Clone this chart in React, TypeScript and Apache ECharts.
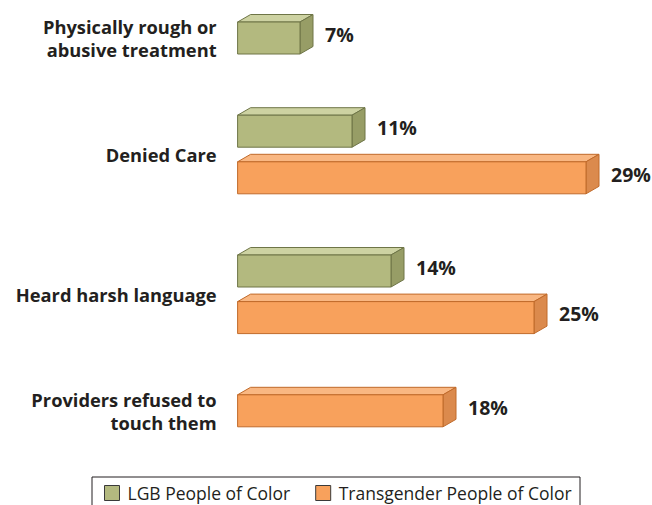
import React, { useEffect, useRef } from "react";
import * as echarts from "echarts";

const categories = [
  "Physically rough or\nabusive treatment",
  "Denied Care",
  "Heard harsh language",
  "Providers refused to\ntouch them",
];
const lgbValues: (number | null)[] = [7, 11, 14, null];
const transValues: (number | null)[] = [null, 29, 25, 18];
const seriesNames = ["LGB People of Color", "Transgender People of Color"];

const X_MIN = 2.2;
const X_MAX = 32;
const BAR_H = 32;
const DX = 13;
const DY = -7.5;
const TEXT = "#231f20";

const palettes = [
  { front: "#b3b97f", top: "#cdd2a2", side: "#979d66", border: "#6e7547" },
  { front: "#f8a15c", top: "#f9b782", side: "#db8a4d", border: "#c06a2a" },
];

// build slot layout from data
function buildLayout() {
  const lgbData: number[][] = [];
  const transData: number[][] = [];
  const labelPos: number[] = [];
  let slot = 0;
  categories.forEach((_, i) => {
    const slots: number[] = [];
    if (lgbValues[i] != null) {
      lgbData.push([lgbValues[i] as number, slot]);
      slots.push(slot);
      slot += 1;
    }
    if (transValues[i] != null) {
      transData.push([transValues[i] as number, slot]);
      slots.push(slot);
      slot += 1;
    }
    labelPos.push(slots.reduce((a, b) => a + b, 0) / slots.length);
    slot += 1;
  });
  return { lgbData, transData, labelPos, lastSlot: slot - 2 };
}

export default function App() {
  const ref = useRef<HTMLDivElement>(null);
  useEffect(() => {
    document.body.style.margin = "0";
    if (!ref.current) return;
    const chart = echarts.init(ref.current, undefined, { renderer: "svg" });
    const { lgbData, transData, labelPos, lastSlot } = buildLayout();

    const makeRender = (pal: typeof palettes[0]) => (params: any, api: any) => {
      const v = api.value(0);
      const s = api.value(1);
      const p0 = api.coord([X_MIN, s]);
      const p1 = api.coord([v, s]);
      const x0 = p0[0];
      const x1 = p1[0];
      const y0 = p0[1] - BAR_H / 2;
      const y1 = y0 + BAR_H;
      return {
        type: "group",
        children: [
          {
            type: "polygon",
            shape: { points: [[x0, y0], [x0 + DX, y0 + DY], [x1 + DX, y0 + DY], [x1, y0]] },
            style: { fill: pal.top, stroke: pal.border, lineWidth: 1 },
          },
          {
            type: "polygon",
            shape: { points: [[x1, y0], [x1 + DX, y0 + DY], [x1 + DX, y1 + DY], [x1, y1]] },
            style: { fill: pal.side, stroke: pal.border, lineWidth: 1 },
          },
          {
            type: "rect",
            shape: { x: x0, y: y0, width: x1 - x0, height: BAR_H },
            style: { fill: pal.front, stroke: pal.border, lineWidth: 1 },
          },
          {
            type: "text",
            x: x1 + DX + 12,
            y: y0 + BAR_H / 2 + DY / 2,
            style: {
              text: v + "%",
              fill: TEXT,
              font: "bold 19.5px 'Open Sans'",
              verticalAlign: "middle",
              align: "left",
            },
          },
        ],
      };
    };

    chart.setOption({
      animation: false,
      grid: { left: 237.6, width: (X_MAX - X_MIN) * 13, top: 14.7, height: 419.4 },
      xAxis: {
        type: "value",
        min: X_MIN,
        max: X_MAX,
        show: false,
      },
      yAxis: {
        type: "value",
        inverse: true,
        min: -0.5,
        max: lastSlot + 0.5,
        interval: 0.5,
        axisLine: { show: false },
        axisTick: { show: false },
        splitLine: { show: false },
        axisLabel: {
          margin: 21,
          color: TEXT,
          fontFamily: "Open Sans",
          fontWeight: "bold",
          fontSize: 18.3,
          lineHeight: 23,
          align: "right",
          formatter: (val: number) => {
            const idx = labelPos.findIndex((p) => Math.abs(p - val) < 1e-6);
            return idx >= 0 ? categories[idx] : "";
          },
        },
      },
      legend: {
        left: 104,
        top: 483,
        padding: 0,
        itemWidth: 15,
        itemHeight: 15,
        itemGap: 25,
        icon: "rect",
        itemStyle: { borderColor: "#3a3a3a", borderWidth: 1 },
        textStyle: {
          color: TEXT,
          fontFamily: "Open Sans",
          fontSize: 17.5,
          lineHeight: 20,
          padding: [0, 0, 0, 3],
        },
        data: seriesNames,
      },
      graphic: [
        {
          type: "rect",
          shape: { x: 92, y: 477, width: 488, height: 60 },
          style: { fill: "none", stroke: "#231f20", lineWidth: 1 },
        },
      ],
      series: [
        {
          type: "custom",
          name: seriesNames[0],
          itemStyle: { color: palettes[0].front },
          data: lgbData,
          encode: { x: 0, y: 1 },
          renderItem: makeRender(palettes[0]),
        },
        {
          type: "custom",
          name: seriesNames[1],
          itemStyle: { color: palettes[1].front },
          data: transData,
          encode: { x: 0, y: 1 },
          renderItem: makeRender(palettes[1]),
        },
      ],
    });
    return () => chart.dispose();
  }, []);
  return <div ref={ref} style={{ width: 652, height: 505 }} />;
}
